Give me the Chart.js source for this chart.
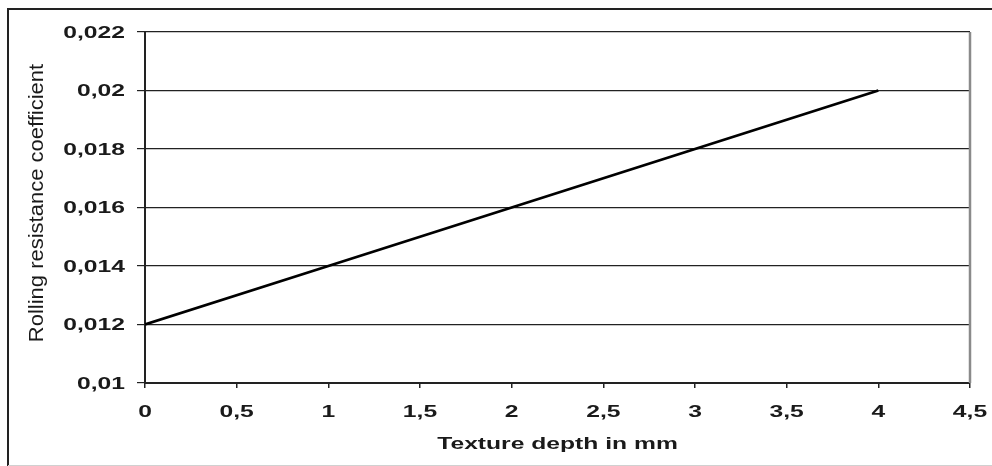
<!DOCTYPE html>
<html>
  <head>
    <meta charset="utf-8">
    <title>Rolling resistance</title>
    <style>
      body { margin: 0; background: #fff; }
      canvas { display: block; }
    </style>
  </head>
  <body>
    <canvas id="chart" width="992" height="466"></canvas>
    <script src="https://cdn.jsdelivr.net/npm/chart.js@4/dist/chart.umd.min.js"></script>
    <script>
      // data
      let depth = [0, 1, 2, 3, 4];
      let coeff = [0.012, 0.014, 0.016, 0.018, 0.02];
      let xTickLabels = ['0', '0,5', '1', '1,5', '2', '2,5', '3', '3,5', '4', '4,5'];
      let yTickLabels = ['0,01', '0,012', '0,014', '0,016', '0,018', '0,02', '0,022'];
      let xTitle = 'Texture depth in mm';
      let yTitle = 'Rolling resistance coefficient';

      let font = '"Liberation Sans", Arial, sans-serif';
      let stretch = 1.45; // the source picture is stretched sideways

      // labels are drawn by hand so they can be stretched like the original
      let labelPlugin = {
        id: 'labels',
        afterDraw(chart) {
          let ctx = chart.ctx;
          let xs = chart.scales.x, ys = chart.scales.y;
          let area = chart.chartArea;
          ctx.save();
          ctx.fillStyle = '#1a1a1a';

          // outer frame
          ctx.strokeStyle = '#222';
          ctx.lineWidth = 2;
          ctx.beginPath();
          ctx.moveTo(8, 466);
          ctx.lineTo(8, 9);
          ctx.lineTo(992, 9);
          ctx.stroke();
          ctx.strokeStyle = '#d0d0d0';
          ctx.lineWidth = 1;
          ctx.beginPath();
          ctx.moveTo(8, 465.5);
          ctx.lineTo(992, 465.5);
          ctx.stroke();

          // right side of the plot box
          ctx.strokeStyle = '#8a8a8a';
          ctx.lineWidth = 2.5;
          ctx.beginPath();
          ctx.moveTo(area.right, area.top);
          ctx.lineTo(area.right, area.bottom);
          ctx.stroke();

          ctx.font = 'bold 17px ' + font;
          ctx.textBaseline = 'middle';
          ys.ticks.forEach((t, i) => {
            let y = ys.getPixelForValue(t.value);
            ctx.save();
            ctx.translate(125, y + 1);
            ctx.scale(stretch, 1);
            ctx.textAlign = 'right';
            ctx.fillText(yTickLabels[i], 0, 0);
            ctx.restore();
          });
          xs.ticks.forEach((t, i) => {
            let x = xs.getPixelForValue(t.value);
            ctx.save();
            ctx.translate(x, 412);
            ctx.scale(stretch, 1);
            ctx.textAlign = 'center';
            ctx.fillText(xTickLabels[i], 0, 0);
            ctx.restore();
          });

          ctx.save();
          ctx.textBaseline = 'alphabetic';
          ctx.translate((area.left + area.right) / 2, 449);
          ctx.scale(stretch, 1);
          ctx.textAlign = 'center';
          ctx.fillText(xTitle, 0, 0);
          ctx.restore();

          ctx.save();
          ctx.font = '20px ' + font;
          ctx.textBaseline = 'alphabetic';
          ctx.translate(43, 203);
          ctx.rotate(-Math.PI / 2);
          ctx.scale(1.1, 1);
          ctx.textAlign = 'center';
          ctx.fillText(yTitle, 0, 0);
          ctx.restore();

          ctx.restore();
        }
      };

      new Chart(document.querySelector('#chart'), {
        type: 'line',
        data: {
          datasets: [{
            data: depth.map((d, i) => ({x: d, y: coeff[i]})),
            borderColor: '#000',
            borderWidth: 2.8,
            pointRadius: 0,
            tension: 0
          }]
        },
        options: {
          responsive: false,
          animation: false,
          layout: { padding: { top: 32, right: 22, left: 0, bottom: 0 } },
          plugins: { legend: { display: false }, tooltip: { enabled: false } },
          scales: {
            x: {
              type: 'linear',
              min: 0,
              max: 4.5,
              afterFit: s => { s.height = 83; },
              ticks: { stepSize: 0.5, display: false },
              grid: { drawOnChartArea: false, drawTicks: true, tickLength: 5, color: '#222', lineWidth: 1.5 },
              border: { color: '#222', width: 2 }
            },
            y: {
              min: 0.01,
              max: 0.022,
              afterFit: s => { s.width = 145; },
              ticks: { stepSize: 0.002, display: false },
              grid: { drawTicks: true, tickLength: 8, color: '#222', lineWidth: 1.2 },
              border: { color: '#222', width: 2 }
            }
          }
        },
        plugins: [labelPlugin]
      });
    </script>
  </body>
</html>
